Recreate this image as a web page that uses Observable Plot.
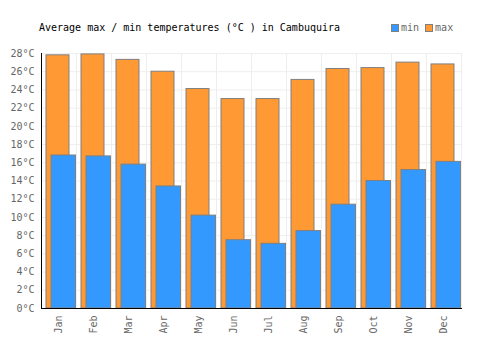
<!DOCTYPE html>
<html>
<head>
<meta charset="utf-8">
<script src="https://cdn.jsdelivr.net/npm/d3@7"></script>
<script src="https://cdn.jsdelivr.net/npm/@observablehq/plot@0.6"></script>
<style>
  html, body { margin: 0; padding: 0; background: #fff; }
  #wrap { position: relative; width: 500px; height: 350px; font-family: "DejaVu Sans Mono", monospace; }
  #title { position: absolute; left: 39px; top: 22px; font-size: 10px; color: #000; white-space: pre; }
  #legend { position: absolute; left: 391px; top: 22px; font-size: 10px; color: #666; display: flex; align-items: center; white-space: pre; }
  .sw { display: inline-block; width: 6px; height: 6px; border: 1px solid #808080; margin-right: 2px; }
</style>
</head>
<body>
<div id="wrap">
  <div id="title">Average max / min temperatures (°C ) in Cambuquira</div>
  <div id="legend"><span class="sw" style="background:#3399ff"></span>min <span class="sw" style="background:#ff9933"></span>max</div>
</div>
<script>
const months = ["Jan","Feb","Mar","Apr","May","Jun","Jul","Aug","Sep","Oct","Nov","Dec"];
const maxTemps = [27.8, 27.9, 27.3, 26.0, 24.1, 23.0, 23.0, 25.1, 26.3, 26.4, 27.0, 26.8];
const minTemps = [16.8, 16.7, 15.8, 13.4, 10.2, 7.5, 7.1, 8.5, 11.4, 14.0, 15.2, 16.1];
const yTicks = d3.range(0, 29, 2);

const maxData = months.map((m, i) => ({month: m, value: maxTemps[i]}));
const minData = months.map((m, i) => ({month: m, value: minTemps[i]}));

const chart = Plot.plot({
  width: 500,
  height: 350,
  marginLeft: 41,
  marginRight: 39,
  marginTop: 53,
  marginBottom: 42,
  style: {fontFamily: "DejaVu Sans Mono, monospace", fontSize: "10px", color: "#666", background: "transparent"},
  x: {domain: months, padding: 0, label: null, tickSize: 0, tickPadding: 7, tickRotate: -90},
  y: {domain: [0, 28], ticks: yTicks, tickFormat: d => d + "°C", label: null, tickSize: 0, tickPadding: 7},
  marks: [
    Plot.gridY(yTicks, {stroke: "#eeeeee", strokeOpacity: 1}),
    Plot.gridX(months, {dx: 17.5, stroke: "#eeeeee", strokeOpacity: 1}),
    Plot.barY(maxData, {x: "month", y: "value", fill: "#ff9933", stroke: "#808080", strokeWidth: 1, insetLeft: 5, insetRight: 7}),
    Plot.barY(minData, {x: "month", y: "value", fill: "#3399ff", stroke: "#808080", strokeWidth: 1, insetLeft: 10, insetRight: 0.5}),
    Plot.frame({anchor: "left", stroke: "#000"}),
    Plot.frame({anchor: "bottom", stroke: "#000"})
  ]
});
chart.style.position = "absolute";
chart.style.left = "0";
chart.style.top = "0";
document.getElementById("wrap").prepend(chart);
</script>
</body>
</html>
